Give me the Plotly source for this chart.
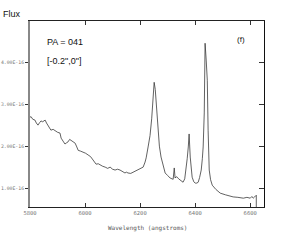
import plotly.graph_objects as go

# Wavelength (angstroms) and flux (units of 1e-16)
wavelength = [5800, 5804, 5810, 5818, 5823, 5829, 5835, 5840, 5846, 5855, 5860, 5865, 5871, 5876,
              5884, 5891, 5900, 5909, 5913, 5920, 5927, 5933, 5938, 5944, 5949, 5956, 5964, 5970,
              5975, 5984, 5993, 6002, 6011, 6020, 6029, 6035, 6040, 6048, 6055, 6064, 6073, 6082,
              6091, 6100, 6109, 6118, 6127, 6136, 6145, 6150, 6156, 6166, 6175, 6184, 6193, 6202,
              6211, 6218, 6222, 6229, 6236, 6242, 6247, 6251, 6255, 6258, 6265, 6270, 6276, 6284,
              6291, 6300, 6309, 6316, 6320, 6324, 6327, 6331, 6335, 6340, 6345, 6351, 6356, 6362,
              6367, 6371, 6375, 6378, 6382, 6385, 6389, 6395, 6400, 6406, 6411, 6416, 6422, 6426,
              6429, 6433, 6436, 6440, 6444, 6447, 6451, 6456, 6462, 6475, 6491, 6510, 6525, 6538,
              6555, 6575, 6588, 6600, 6606, 6611, 6616, 6622, 6622]
flux = [2.69, 2.70, 2.64, 2.62, 2.55, 2.50, 2.56, 2.60, 2.58, 2.62, 2.55, 2.50, 2.44, 2.38,
        2.40, 2.36, 2.33, 2.31, 2.19, 2.12, 2.05, 2.08, 2.10, 2.16, 2.14, 2.10, 2.07, 1.98,
        1.90, 1.88, 1.86, 1.83, 1.79, 1.75, 1.67, 1.62, 1.57, 1.58, 1.55, 1.52, 1.50, 1.47,
        1.50, 1.45, 1.43, 1.45, 1.43, 1.40, 1.36, 1.38, 1.36, 1.35, 1.38, 1.40, 1.43, 1.46,
        1.50, 1.62, 1.72, 1.98, 2.25, 2.65, 3.05, 3.52, 3.35, 3.10, 2.38, 2.00, 1.74, 1.50,
        1.36, 1.30, 1.24, 1.22, 1.21, 1.48, 1.24, 1.27, 1.26, 1.22, 1.19, 1.17, 1.14, 1.22,
        1.43, 1.70, 1.98, 2.29, 1.74, 1.45, 1.26, 1.15, 1.12, 1.12, 1.14, 1.25, 1.43, 1.70,
        1.98, 2.79, 4.45, 4.05, 3.57, 2.38, 1.43, 1.20, 1.07, 0.97, 0.88, 0.84, 0.81, 0.79,
        0.78, 0.76, 0.78, 0.76, 0.80, 0.76, 0.79, 0.83, 0.40]

x_ticks = [5800, 6000, 6200, 6400, 6600]
y_ticks = [1, 2, 3, 4]
y_tick_labels = ["1.00E-16", "2.00E-16", "3.00E-16", "4.00E-16"]

fig = go.Figure()
fig.add_trace(go.Scatter(x=wavelength, y=flux, mode="lines",
                         line=dict(color="#3a3a3a", width=0.8), showlegend=False))
# invisible trace for right-side axis
fig.add_trace(go.Scatter(x=wavelength, y=flux, mode="lines", yaxis="y2",
                         line=dict(color="rgba(0,0,0,0)", width=0), showlegend=False,
                         hoverinfo="skip"))

tickfont = dict(family="DejaVu Sans Mono", size=5.5, color="#777")
yr = [0.55, 4.98]
fig.update_layout(
    width=298, height=242,
    margin=dict(l=30, r=34, t=21, b=35, autoexpand=False),
    paper_bgcolor="white", plot_bgcolor="white",
    xaxis=dict(range=[5800, 6650], tickvals=x_ticks, ticks="inside", ticklen=4,
               tickcolor="#333", tickwidth=1, showgrid=False, zeroline=False,
               showline=True, linecolor="#222", linewidth=1, mirror="ticks",
               tickfont=tickfont, automargin=False),
    yaxis=dict(range=yr, tickvals=y_ticks, ticktext=y_tick_labels, ticks="outside",
               ticklen=3, tickcolor="#333", tickwidth=1, showgrid=False, zeroline=False,
               showline=True, linecolor="#888", linewidth=2, automargin=False,
               tickfont=dict(family="DejaVu Sans Mono", size=4.8, color="#777")),
    yaxis2=dict(range=yr, overlaying="y", side="right", tickvals=y_ticks, showticklabels=False,
                ticks="inside", ticklen=5, tickcolor="#333", showgrid=False, zeroline=False,
                showline=True, linecolor="#111", linewidth=1, automargin=False),
)

afont = dict(family="Arial, Liberation Sans", color="#111")
fig.add_annotation(text="Flux", xref="paper", yref="paper", x=-0.124, y=1.035,
                   xanchor="left", yanchor="middle", showarrow=False, font=dict(size=9, **afont))
fig.add_annotation(text="PA = 041", xref="paper", yref="paper", x=0.064, y=0.887,
                   xanchor="left", yanchor="middle", showarrow=False, font=dict(size=9, **afont))
fig.add_annotation(text="[-0.2\",0\"]", xref="paper", yref="paper", x=0.064, y=0.785,
                   xanchor="left", yanchor="middle", showarrow=False, font=dict(size=9, **afont))
fig.add_annotation(text="(f)", xref="paper", yref="paper", x=0.902, y=0.898,
                   xanchor="center", yanchor="middle", showarrow=False, font=dict(size=8, **afont))
fig.add_annotation(text="Wavelength (angstroms)", xref="paper", yref="paper", x=0.5, y=-0.113,
                   xanchor="center", yanchor="middle", showarrow=False,
                   font=dict(family="DejaVu Sans Mono", size=6, color="#555"))

fig.write_html("out.html", config={"displayModeBar": False},
               post_script="document.body.style.margin='0';")
